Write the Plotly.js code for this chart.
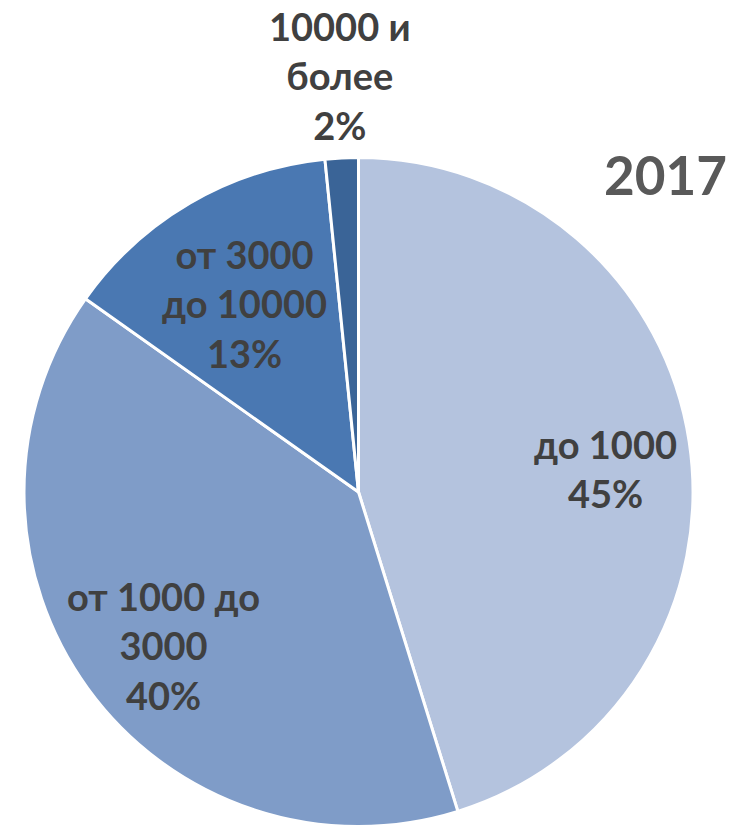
<!DOCTYPE html>
<html><head><meta charset="utf-8">
<script src="https://cdn.plot.ly/plotly-3.0.1.min.js"></script>
<style>html,body{margin:0;padding:0;background:#fff}#c{width:735px;height:828px}</style>
</head><body><div id="c"></div>
<script>
const categories = ["до 1000", "от 1000 до 3000", "от 3000 до 10000", "10000 и более"];
const labelLines = ["до 1000", "от 1000 до<br>3000", "от 3000<br>до 10000", "10000 и<br>более"];
const values = [45.2, 39.6, 13.6, 1.6];
const pctLabels = ["45%", "40%", "13%", "2%"];
const colors = ["#B4C3DE", "#7F9CC8", "#4A78B2", "#3A6497"];
const labelPos = [[605, 469], [163, 645], [244, 303], [340, 76]];

const W = 735, H = 828;
const cx = 358.5, cy = 492, r = 334.5;

const annotations = categories.map((c, i) => ({
  xref: "paper", yref: "paper",
  x: labelPos[i][0] / W, y: 1 - labelPos[i][1] / H,
  xanchor: "center", yanchor: "middle",
  text: labelLines[i] + "<br>" + pctLabels[i],
  showarrow: false,
  font: {family: "Lato", size: 38, color: "#404040", weight: "bold"}
}));
annotations.push({
  xref: "paper", yref: "paper",
  x: 665 / W, y: 1 - 174 / H, xanchor: "center", yanchor: "middle",
  text: "2017", showarrow: false,
  font: {family: "Lato", size: 53, color: "#595959", weight: "bold"}
});

Plotly.newPlot("c", [{
  type: "pie",
  labels: categories,
  values: values,
  sort: false,
  direction: "clockwise",
  rotation: 0,
  marker: {colors: colors, line: {color: "#ffffff", width: 3}},
  textinfo: "none",
  hoverinfo: "label+percent",
  domain: {x: [(cx - r) / W, (cx + r) / W], y: [1 - (cy + r) / H, 1 - (cy - r) / H]}
}], {
  width: W, height: H,
  margin: {l: 0, r: 0, t: 0, b: 0},
  showlegend: false,
  paper_bgcolor: "#ffffff",
  annotations: annotations
}, {staticPlot: true});
</script>
</body></html>
